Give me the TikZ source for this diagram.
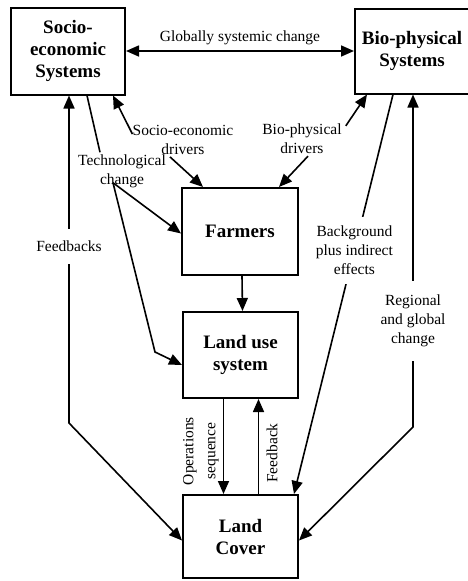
\documentclass[tikz,border=0pt]{standalone}
\usepackage{fontspec}
\setmainfont{Liberation Serif}
\usetikzlibrary{arrows.meta}
\newcommand{\lbl}{\fontsize{15.5}{19}\selectfont}
\newcommand{\bxf}{\fontsize{19}{22}\selectfont\bfseries}

\begin{document}
\begin{tikzpicture}[x=1pt,y=-1pt,
   sysbox/.style={draw,line width=2pt,align=center,font=\bxf,inner sep=2pt},
   lab/.style={align=center,font=\lbl,inner sep=2pt},
   arr/.style={line width=1.6pt,-{Triangle[length=13pt,width=11pt]}},
   dbl/.style={line width=1.6pt,{Triangle[length=13pt,width=11pt]}-{Triangle[length=13pt,width=11pt]}}]
   \useasboundingbox (0,0) rectangle (467,581);
   \node[sysbox,minimum width=114pt,minimum height=87pt] (socio) at (68,51) {Socio-\\economic\\Systems};
   \node[sysbox,minimum width=114pt,minimum height=85pt] (bio) at (412,51) {Bio-physical\\Systems};
   \node[sysbox,minimum width=116pt,minimum height=87pt] (farmers) at (240,231.5) {Farmers};
   \node[sysbox,minimum width=115pt,minimum height=86pt] (landuse) at (240.5,355) {Land use\\system};
   \node[sysbox,minimum width=115pt,minimum height=83pt] (landcover) at (240.5,536.5) {Land\\Cover};
   \node[lab] (sedrv) at (183,140) {Socio-economic\\drivers};
   \node[lab] (bpdrv) at (302,139) {Bio-physical\\drivers};
   \node[lab] (tech) at (122,171) {Technological\\change};
   \node[lab,rotate=90] (opseq) at (201,451) {Operations\\[3pt]sequence};
   \node[lab,rotate=90] (fbk) at (272,453) {Feedback};
   \coordinate (fork) at ([shift={(-9,-7)}]tech.south);
   \coordinate (bendL) at (155,352);
   \coordinate (fbL) at (69,423);
   \coordinate (rgR) at (413,427);

   \draw[dbl] (socio.east) -- node[lab,above=3pt] {Globally systemic change} (bio.west);
   \draw[arr] ([shift={(2,11)}]sedrv.north west) -- ([xshift=45]socio.south);
   \draw[arr] ([xshift=-13]sedrv.south) -- ([xshift=-37]farmers.north);
   \draw[arr] ([shift={(2,4)}]bpdrv.north east) -- ([xshift=13]bio.south west);
   \draw[arr] ([xshift=6]bpdrv.south) -- ([xshift=-20]farmers.north east);
   \draw[line width=1.6pt] ([xshift=19]socio.south) -- ([xshift=-22]tech.north);
   \draw[arr] (fork) -- ([yshift=-2]farmers.west);
   \draw[arr] (fork) -- (bendL) -- ([yshift=-10]landuse.west);
   \draw[arr] ([xshift=2]farmers.south) -- ([xshift=2]landuse.north);
   \draw[arr] ([xshift=-17]landuse.south) -- ([xshift=-17]landcover.north);
   \draw[arr] ([xshift=18]landcover.north) -- ([xshift=18]landuse.south);
   \draw[dbl] ([xshift=1]socio.south) -- node[lab,pos=0.46,fill=white,inner ysep=12pt] {Feedbacks} (fbL)
      -- ([yshift=-4]landcover.west);
   \draw[dbl] ([xshift=1]bio.south) -- node[lab,pos=0.68,fill=white,inner ysep=14pt] {Regional\\and global\\change} (rgR)
      -- ([yshift=-4]landcover.east);
   \draw[arr] ([xshift=-19]bio.south) -- node[lab,pos=0.39,fill=white,inner ysep=9pt] {Background\\plus indirect\\effects}
      ([xshift=-5]landcover.north east);
\end{tikzpicture}
\end{document}
